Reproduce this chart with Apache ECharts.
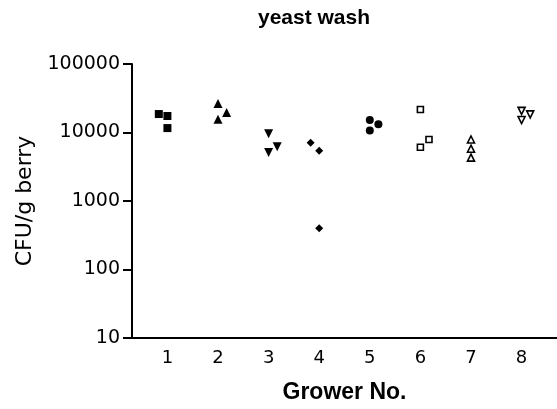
<!DOCTYPE html>
<html>
<head>
<meta charset="utf-8">
<script src="https://cdn.jsdelivr.net/npm/echarts@6/dist/echarts.min.js"></script>
<style>
  html, body { margin: 0; padding: 0; background: #fff; }
  #chart { width: 557px; height: 409px; }
</style>
</head>
<body>
<div id="chart"></div>
<script>
// grower numbers shown on the x axis
const growers = [1, 2, 3, 4, 5, 6, 7, 8]
const yTicks = [10, 100, 1000, 10000, 100000]

// each grower: x positions (slight horizontal offset as in the plot) and CFU/g berry
const g1x = [0.83, 1.0, 1.0], g1y = [18600, 17400, 11600]
const g2x = [2.0, 2.17, 2.0], g2y = [26400, 19600, 15600]
const g3x = [3.0, 3.17, 3.0], g3y = [9600, 6200, 5100]
const g4x = [3.83, 4.0, 4.0], g4y = [7100, 5400, 400]
const g5x = [5.0, 5.17, 5.0], g5y = [15200, 13200, 10700]
const g6x = [6.0, 6.17, 6.0], g6y = [21700, 7900, 6100]
const g7x = [7.0, 7.0, 7.0], g7y = [7900, 5800, 4300]
const g8x = [8.0, 8.17, 8.0], g8y = [20700, 18400, 15200]

const FONT = 'DejaVu Sans, sans-serif'
const FONT_B = 'Liberation Sans, Arial, sans-serif'

function pts(xs, ys) {
  return xs.map((x, i) => [x, ys[i]])
}

function mk(name, xs, ys, symbol, size, open, rotate) {
  return {
    name: name,
    type: 'scatter',
    data: pts(xs, ys),
    symbol: symbol,
    symbolSize: size,
    symbolRotate: rotate || 0,
    itemStyle: open
      ? { color: '#fff', borderColor: '#000', borderWidth: 1.6, opacity: 1 }
      : { color: '#000', opacity: 1 },
  }
}

const chart = echarts.init(document.getElementById('chart'))

chart.setOption({
  animation: false,
  title: {
    text: 'yeast wash',
    left: 309,
    top: 3,
    textAlign: 'center',
    textStyle: { fontFamily: FONT_B, fontSize: 21, fontWeight: 'bold', color: '#000' },
  },
  grid: { left: 132, right: 0, top: 64, bottom: 64 },
  xAxis: {
    type: 'value',
    min: 0.3,
    max: 8.7,
    name: 'Grower No.',
    nameLocation: 'middle',
    nameGap: 43,
    nameTextStyle: { fontFamily: FONT_B, fontSize: 23, fontWeight: 'bold', color: '#000' },
    axisLine: { show: true, lineStyle: { color: '#000', width: 2 } },
    axisTick: { show: false },
    splitLine: { show: false },
    axisLabel: {
      customValues: growers,
      margin: 11,
      fontFamily: FONT,
      fontSize: 18,
      color: '#000',
    },
  },
  yAxis: {
    type: 'log',
    logBase: 10,
    min: 10,
    max: 100000,
    name: 'CFU/g berry',
    nameLocation: 'middle',
    nameGap: 95,
    nameTextStyle: { fontFamily: FONT, fontSize: 22, color: '#000' },
    axisLine: { show: true, lineStyle: { color: '#000', width: 2 } },
    axisTick: {
      show: true,
      length: 9,
      customValues: yTicks,
      lineStyle: { color: '#000', width: 2 },
    },
    splitLine: { show: false },
    axisLabel: {
      customValues: yTicks,
      margin: 12,
      fontFamily: FONT,
      fontSize: 19,
      color: '#000',
      formatter: (v) => String(Math.round(v)),
    },
  },
  series: [
    mk('1', g1x, g1y, 'rect', 8, false),
    mk('2', g2x, g2y, 'triangle', 9, false),
    mk('3', g3x, g3y, 'triangle', 9, false, 180),
    mk('4', g4x, g4y, 'diamond', 8, false),
    mk('5', g5x, g5y, 'circle', 8, false),
    mk('6', g6x, g6y, 'rect', 6, true),
    mk('7', g7x, g7y, 'triangle', 7, true),
    mk('8', g8x, g8y, 'triangle', 7, true, 180),
  ],
})
</script>
</body>
</html>
